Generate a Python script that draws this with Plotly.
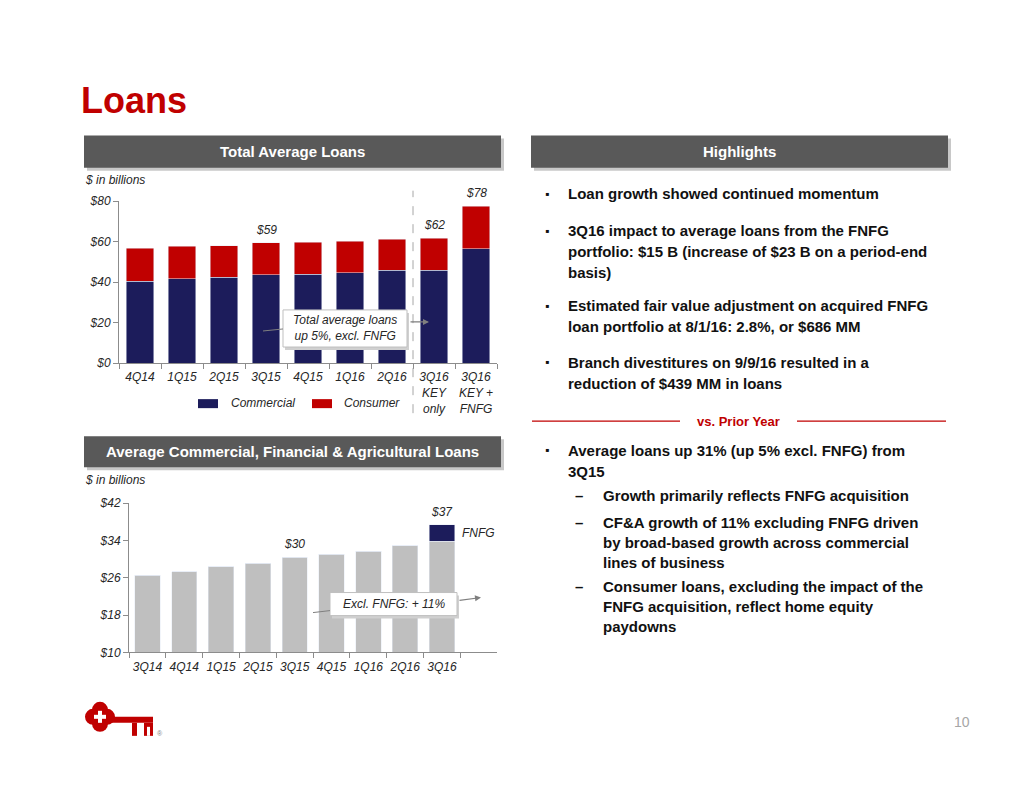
import plotly.graph_objects as go

# ---------------- data ----------------
top_quarters = ["4Q14", "1Q15", "2Q15", "3Q15", "4Q15", "1Q16", "2Q16",
                "3Q16<br>KEY<br>only", "3Q16<br>KEY +<br>FNFG"]
commercial = [40.5, 41.5, 42.3, 43.5, 43.8, 44.6, 45.9, 45.9, 56.5]
consumer = [16.1, 16.1, 15.6, 15.8, 15.8, 15.5, 15.3, 15.7, 21.0]
top_labels = ["", "", "", "$59", "", "", "", "$62", "$78"]
top_yticks = [0, 20, 40, 60, 80]
top_yticktext = ["$0", "$20", "$40", "$60", "$80"]

bot_quarters = ["3Q14", "4Q14", "1Q15", "2Q15", "3Q15", "4Q15", "1Q16", "2Q16", "3Q16"]
cfa_excl = [26.5, 27.3, 28.4, 29.1, 30.4, 31.0, 31.7, 32.8, 33.8]
cfa_fnfg = [0, 0, 0, 0, 0, 0, 0, 0, 3.6]
bot_labels = ["", "", "", "", "$30", "", "", "", "$37"]
bot_yticks = [10, 18, 26, 34, 42]
bot_yticktext = ["$10", "$18", "$26", "$34", "$42"]

highlights = [
    ["Loan growth showed continued momentum"],
    ["3Q16 impact to average loans from the FNFG",
     "portfolio: $15 B (increase of $23 B on a period-end",
     "basis)"],
    ["Estimated fair value adjustment on acquired FNFG",
     "loan portfolio at 8/1/16: 2.8%, or $686 MM"],
    ["Branch divestitures on 9/9/16 resulted in a",
     "reduction of $439 MM in loans"],
]

# ---------------- style ----------------
PAGE_W, PAGE_H = 1034, 799
MARGIN = 8                      # browser body margin
W, H = PAGE_W - 2 * MARGIN, PAGE_H - 2 * MARGIN
Y_OFF, Y_SCALE = 15.7, 0.98     # measured page -> picture vertical mapping
NAVY = "#1C1C5B"
RED = "#C00000"
GREY_BAR = "#BFBFBF"
HEADER = "#595959"
TXT = "#262626"
AX = "#8C8C8C"
FONT = "Liberation Sans, Arial, sans-serif"


def px(x):
    return (x - MARGIN) / W


def py(y):
    return 1 - ((y - Y_OFF) / Y_SCALE) / H


fig = go.Figure()

fig.add_trace(go.Bar(x=top_quarters, y=commercial, name="Commercial", width=0.65,
                     marker_color=NAVY, xaxis="x", yaxis="y", showlegend=False))
fig.add_trace(go.Bar(x=top_quarters, y=consumer, name="Consumer", width=0.65,
                     marker_color=RED, xaxis="x", yaxis="y", showlegend=False))
fig.add_trace(go.Bar(x=bot_quarters, y=cfa_excl, name="Excl. FNFG", width=0.69,
                     marker_color=GREY_BAR, xaxis="x2", yaxis="y2",
                     showlegend=False))
fig.add_trace(go.Bar(x=bot_quarters, y=cfa_fnfg, name="FNFG", width=0.69,
                     marker_color=NAVY, xaxis="x2", yaxis="y2",
                     showlegend=False))

shapes = []
ann = []


def rect(x0, x1, y0, y1, fill, line=None, layer="above"):
    shapes.append(dict(type="rect", xref="paper", yref="paper",
                       x0=px(x0), x1=px(x1), y0=py(y1), y1=py(y0),
                       fillcolor=fill, line=line or dict(width=0), layer=layer))


def text(x, y, s, size=12, color=TXT, xanchor="left", italic=False, bold=False, family=FONT):
    f = dict(family=family, size=size, color=color)
    if italic:
        f["style"] = "italic"
    if bold:
        f["weight"] = "bold"
    ann.append(dict(text=s, xref="paper", yref="paper", x=px(x), y=py(y),
                    xanchor=xanchor, yanchor="middle", showarrow=False, font=f))


# header bars
def header(x0, x1, y0, y1, s):
    rect(x0 + 3, x1 + 3, y0 + 3, y1 + 3, "#C8C8C8", layer="below")
    rect(x0, x1, y0, y1, HEADER, layer="below")
    text((x0 + x1) / 2, (y0 + y1) / 2, s, size=15, color="white", xanchor="center", bold=True)


header(84, 501, 136, 168, "Total Average Loans")
header(531, 948, 136, 168, "Highlights")
header(84, 501, 436, 467, "Average Commercial, Financial &amp; Agricultural Loans")

# title
text(79, 101, "Loans", size=36, color=RED, bold=True)

# $ in billions
text(83, 180, "$ in billions", italic=True)
text(83, 480, "$ in billions", italic=True)

# value labels
tot = [c + s for c, s in zip(commercial, consumer)]
for q, t, lab in zip(top_quarters, tot, top_labels):
    if lab:
        ann.append(dict(text=lab, xref="x", yref="y", x=q, y=t, yshift=4,
                        xanchor="center", yanchor="bottom", showarrow=False,
                        font=dict(family=FONT, size=12, color=TXT, style="italic")))
tot2 = [a + b for a, b in zip(cfa_excl, cfa_fnfg)]
for q, t, lab in zip(bot_quarters, tot2, bot_labels):
    if lab:
        ann.append(dict(text=lab, xref="x2", yref="y2", x=q, y=t, yshift=4,
                        xanchor="center", yanchor="bottom", showarrow=False,
                        font=dict(family=FONT, size=12, color=TXT, style="italic")))
ann.append(dict(text="FNFG", xref="x2", yref="y2", x=bot_quarters[-1],
                y=cfa_excl[-1] + cfa_fnfg[-1] / 2, xshift=18,
                xanchor="left", yanchor="middle", showarrow=False,
                font=dict(family=FONT, size=12, color=TXT, style="italic")))

# legend (top chart)
rect(198, 218, 399, 408, NAVY)
text(229, 403, "Commercial", italic=True)
rect(312, 332, 399, 408, RED)
text(342, 403, "Consumer", italic=True)

# dashed separator
shapes.append(dict(type="line", xref="x", yref="paper", x0=6.5, x1=6.5,
                   y0=py(413), y1=py(191), line=dict(color="#A6A6A6", width=1, dash="dash")))


# callout boxes
def callout(x0, x1, y0, y1, s):
    rect(x0 + 2, x1 + 2, y0 + 3, y1 + 3, "#D0D0D0")
    rect(x0, x1, y0, y1, "white", line=dict(color="#BFBFBF", width=1))
    text((x0 + x1) / 2, (y0 + y1) / 2, s, xanchor="center", italic=True)


callout(283, 407, 310, 347, "Total average loans<br>up 5%, excl. FNFG")
shapes.append(dict(type="line", xref="paper", yref="paper", x0=px(263), x1=px(283),
                   y0=py(331), y1=py(329), line=dict(color="#7F7F7F", width=1)))
ann.append(dict(xref="paper", yref="paper", axref="pixel", ayref="pixel",
                x=px(429), y=py(322), ax=-20, ay=0, text="",
                showarrow=True, arrowhead=2, arrowsize=1, arrowwidth=1.2,
                arrowcolor="#7F7F7F"))

callout(330, 457, 592, 615, "Excl. FNFG: + 11%")
shapes.append(dict(type="line", xref="paper", yref="paper", x0=px(313), x1=px(330),
                   y0=py(612), y1=py(610), line=dict(color="#7F7F7F", width=1)))
ann.append(dict(xref="paper", yref="paper", axref="pixel", ayref="pixel",
                x=px(481), y=py(597), ax=-23, ay=3, text="",
                showarrow=True, arrowhead=2, arrowsize=1, arrowwidth=1.2,
                arrowcolor="#7F7F7F"))

BODY = "#111111"


def line_text(x, y, s):
    text(x, y, s, size=15, color=BODY, bold=True)


def bullet(y):
    text(543, y, "▪", size=12, color=BODY)


hl_y = [[194], [231, 252, 273], [306, 327], [362, 383]]
for lines, ys in zip(highlights, hl_y):
    bullet(ys[0])
    for t, yy in zip(lines, ys):
        line_text(566, yy, t)

# vs Prior Year
shapes.append(dict(type="line", xref="paper", yref="paper", x0=px(532), x1=px(680),
                   y0=py(421), y1=py(421), line=dict(color=RED, width=1.2)))
shapes.append(dict(type="line", xref="paper", yref="paper", x0=px(797), x1=px(946),
                   y0=py(421), y1=py(421), line=dict(color=RED, width=1.2)))
text(738, 421, "vs. Prior Year", size=13, color=RED, xanchor="center", bold=True)

bullet(450)
line_text(566, 450, "Average loans up 31% (up 5% excl. FNFG) from")
line_text(566, 471, "3Q15")

subs = [
    (["Growth primarily reflects FNFG acquisition"], [495]),
    (["CF&amp;A growth of 11% excluding FNFG driven",
      "by broad-based growth across commercial",
      "lines of business"], [522, 542, 562]),
    (["Consumer loans, excluding the impact of the",
      "FNFG acquisition, reflect home equity",
      "paydowns"], [586, 606, 626]),
]
for lines, ys in subs:
    line_text(573, ys[0], "–")
    for t, yy in zip(lines, ys):
        line_text(601, yy, t)

# page number
text(972, 721, "10", size=14, color="#A6A6A6", xanchor="right")

# logo (key)
LOGO = "#C00000"
for cx, cy in [(93, 716), (107, 716), (100, 709), (100, 723)]:
    shapes.append(dict(type="circle", xref="paper", yref="paper",
                       x0=px(cx - 8), x1=px(cx + 8), y0=py(cy + 8), y1=py(cy - 8),
                       fillcolor=LOGO, line=dict(width=0)))
rect(98, 102, 710, 722, "white")
rect(94, 106, 714, 718, "white")
rect(112, 153, 716, 722, LOGO)
rect(132, 137, 722, 735, LOGO)
rect(144, 153, 722, 735, LOGO)
rect(147, 150, 726, 735, "white")
text(155, 733, "®", size=7, color="#7F7F7F")

axis_common = dict(showline=True, linecolor=AX, linewidth=1, showgrid=False,
                   zeroline=False, ticks="outside", tickcolor=AX, ticklen=5,
                   tickfont=dict(family=FONT, size=12, color=TXT, style="italic"))

fig.update_layout(
    width=W, height=H, margin=dict(l=0, r=0, t=0, b=0),
    paper_bgcolor="white", plot_bgcolor="white",
    barmode="stack",
    font=dict(family=FONT, color=TXT),
    xaxis=dict(domain=[px(119), px(497)], anchor="y", type="category",
               tickson="boundaries", tickangle=0, ticklabelstandoff=3, **axis_common),
    yaxis=dict(domain=[py(363), py(201.3)], anchor="x", range=[0, 80],
               tickvals=top_yticks, ticktext=top_yticktext, **axis_common),
    xaxis2=dict(domain=[px(129), px(497)], anchor="y2", type="category",
                tickson="boundaries", tickangle=0, ticklabelstandoff=3, **axis_common),
    yaxis2=dict(domain=[py(651.7), py(502.7)], anchor="x2", range=[10, 42],
                tickvals=bot_yticks, ticktext=bot_yticktext, **axis_common),
    showlegend=False,
    shapes=shapes, annotations=ann,
)

fig.write_html("out.html")
